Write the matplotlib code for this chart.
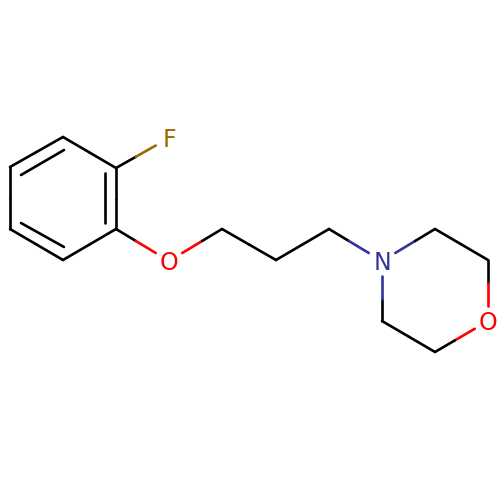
import matplotlib
matplotlib.use('Agg')
import matplotlib.pyplot as plt

# atom positions
atoms = {
    'c1': (63, 137), 'c2': (116, 168), 'c3': (116, 229),
    'c4': (63, 260), 'c5': (10, 229), 'c6': (10, 167),
    'f': (169, 138), 'o1': (169, 261),
    'c7': (222, 229), 'c8': (276, 260), 'c9': (329, 229),
    'n': (382, 261), 'c10': (435, 229), 'c11': (488, 260),
    'o2': (488, 321), 'c12': (435, 352), 'c13': (382, 321),
}
labels = [('f', 'F'), ('o1', 'O'), ('n', 'N'), ('o2', 'O')]
bonds = [
    ('c1', 'c2'), ('c2', 'c3'), ('c3', 'c4'), ('c4', 'c5'), ('c5', 'c6'), ('c6', 'c1'),
    ('c2', 'f'), ('c3', 'o1'), ('o1', 'c7'), ('c7', 'c8'), ('c8', 'c9'), ('c9', 'n'),
    ('n', 'c10'), ('c10', 'c11'), ('c11', 'o2'), ('o2', 'c12'), ('c12', 'c13'), ('c13', 'n'),
]
inner_bonds = [((21, 175), (64, 150)), ((105, 173), (105, 223)), ((21, 223), (64, 247))]
colors = {'f': '#9a6a00', 'o1': '#ff0000', 'o2': '#ff0000', 'n': '#33339a'}
gap = 0.25  # part of the bond hidden by the label

fig = plt.figure(figsize=(5, 5), dpi=100)
ax = fig.add_axes([0, 0, 1, 1])
ax.set_xlim(0, 500)
ax.set_ylim(500, 0)
ax.axis('off')


def half(a, b, start, end, col):
    (x0, y0), (x1, y1) = atoms[a], atoms[b]
    ax.plot([x0 + (x1 - x0) * start, x0 + (x1 - x0) * end],
            [y0 + (y1 - y0) * start, y0 + (y1 - y0) * end],
            color=col, lw=1.9, solid_capstyle='round')


for a, b in bonds:
    # the colour changes halfway along the visible part of the bond
    start = gap if a in colors else 0
    end = 1 - gap if b in colors else 1
    mid = (start + end) / 2
    half(a, b, start, mid, colors.get(a, 'black'))
    half(a, b, mid, end, colors.get(b, 'black'))

for p, q in inner_bonds:
    ax.plot([p[0], q[0]], [p[1], q[1]], color='black', lw=1.9, solid_capstyle='round')

for key, text in labels:
    x, y = atoms[key]
    ax.text(x, y - 0.5, text, color=colors[key], fontsize=17, ha='center', va='center_baseline')

fig.savefig('out.png', dpi=100)
